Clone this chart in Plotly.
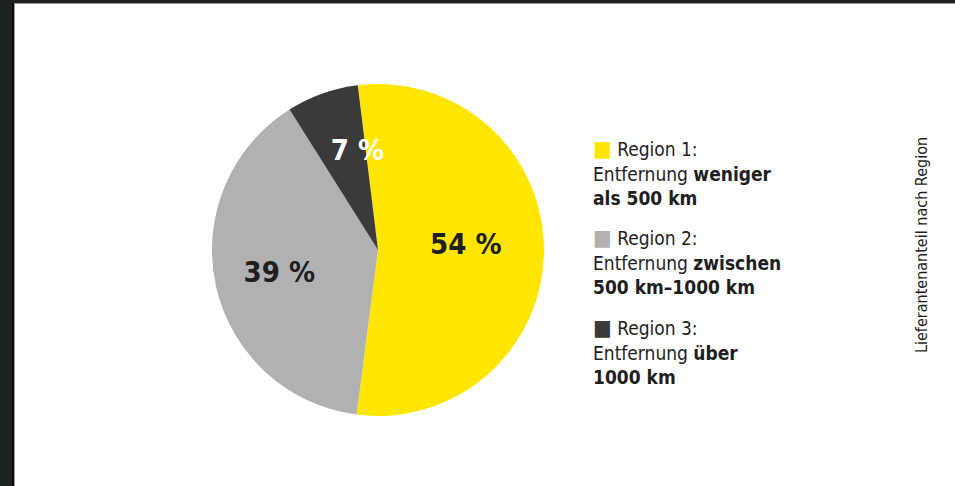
import plotly.graph_objects as go

# ---- data ----
categories = ["Region 1", "Region 2", "Region 3"]
shares = [54, 39, 7]
descriptions = [
    "Entfernung <b>weniger</b><br><b>als 500 km</b>",
    "Entfernung <b>zwischen</b><br><b>500 km\u20131000 km</b>",
    "Entfernung <b>über</b><br><b>1000 km</b>",
]
side_title = "Lieferantenanteil nach Region"

# ---- style ----
colors = ["#FFE600", "#B1B1B1", "#3A3A3A"]
text_colors = ["#1E1E1E", "#1E1E1E", "#FFFFFF"]
text_weights = [700, 700, 700]
FONT = "Liberation Sans Narrow, DejaVu Sans Condensed, Roboto Condensed, Arial Narrow, sans-serif"
LABEL_SIZE = 29
W, H = 955, 486
ROT = -7


def px(x):
    return x / W


def py(y):
    return 1 - y / H


cx, cy, r = 378, 250, 166


def dom(radius):
    return dict(x=[px(cx - radius), px(cx + radius)], y=[py(cy + radius), py(cy - radius)])


fig = go.Figure()
# visible pie
fig.add_trace(go.Pie(
    labels=categories,
    values=shares,
    sort=False,
    direction="clockwise",
    rotation=ROT,
    marker=dict(colors=colors, line=dict(width=0)),
    textinfo="none",
    hoverinfo="label+percent",
    showlegend=False,
    domain=dom(r),
))

# transparent label-only pies (same data) so each value label sits where the original puts it
label_layers = [
    (176, ROT - 4, ["inside", "none", "none"]),
    (196, ROT, ["none", "inside", "none"]),
    (124, ROT + 8, ["none", "none", "inside"]),
]
for label_radius, rot, positions in label_layers:
    fig.add_trace(go.Pie(
        labels=categories,
        values=shares,
        sort=False,
        direction="clockwise",
        rotation=rot,
        marker=dict(colors=["rgba(0,0,0,0)"] * len(shares), line=dict(width=0)),
        texttemplate="%{value} %",
        textposition=positions,
        insidetextorientation="horizontal",
        textfont=dict(family=FONT, size=LABEL_SIZE, color=text_colors, weight=text_weights),
        hoverinfo="skip",
        showlegend=False,
        domain=dom(label_radius),
    ))

# legend-like text blocks, built from the data lists
tops = [134, 223, 313]
for cat, desc, col, top in zip(categories, descriptions, colors, tops):
    fig.add_annotation(
        x=px(591), y=py(top), xref="paper", yref="paper",
        xanchor="left", yanchor="top", align="left", showarrow=False,
        text=f'<span style="color:{col};font-size:22px">\u25A0</span> {cat}:<br>{desc}',
        font=dict(family=FONT, size=19, color="#1E1E1E"),
    )

fig.add_annotation(
    x=px(921), y=py(245), xref="paper", yref="paper",
    xanchor="center", yanchor="middle", showarrow=False, textangle=-90,
    text=side_title, font=dict(family=FONT, size=16, color="#1E1E1E"),
)

# dark window frame (left and top)
frame = "#1D2121"
fig.add_shape(type="rect", xref="paper", yref="paper", x0=0, x1=px(12), y0=0, y1=1,
              fillcolor=frame, line_width=0, layer="above")
fig.add_shape(type="rect", xref="paper", yref="paper", x0=px(12), x1=px(14), y0=0, y1=1,
              fillcolor="#0A0A0A", line_width=0, layer="above")
fig.add_shape(type="rect", xref="paper", yref="paper", x0=px(14), x1=px(15), y0=0, y1=py(3),
              fillcolor="#9A9A9A", line_width=0, layer="above")
fig.add_shape(type="rect", xref="paper", yref="paper", x0=0, x1=1, y0=py(3), y1=1,
              fillcolor=frame, line_width=0, layer="above")
fig.add_shape(type="rect", xref="paper", yref="paper", x0=px(14), x1=1, y0=py(4), y1=py(3),
              fillcolor="#9A9A9A", line_width=0, layer="above")

fig.update_layout(
    width=W, height=H,
    margin=dict(l=0, r=0, t=0, b=0),
    paper_bgcolor="#FFFFFF",
    plot_bgcolor="#FFFFFF",
    showlegend=False,
    uniformtext=dict(minsize=LABEL_SIZE, mode="show"),
)

fig.write_html("out.html")
